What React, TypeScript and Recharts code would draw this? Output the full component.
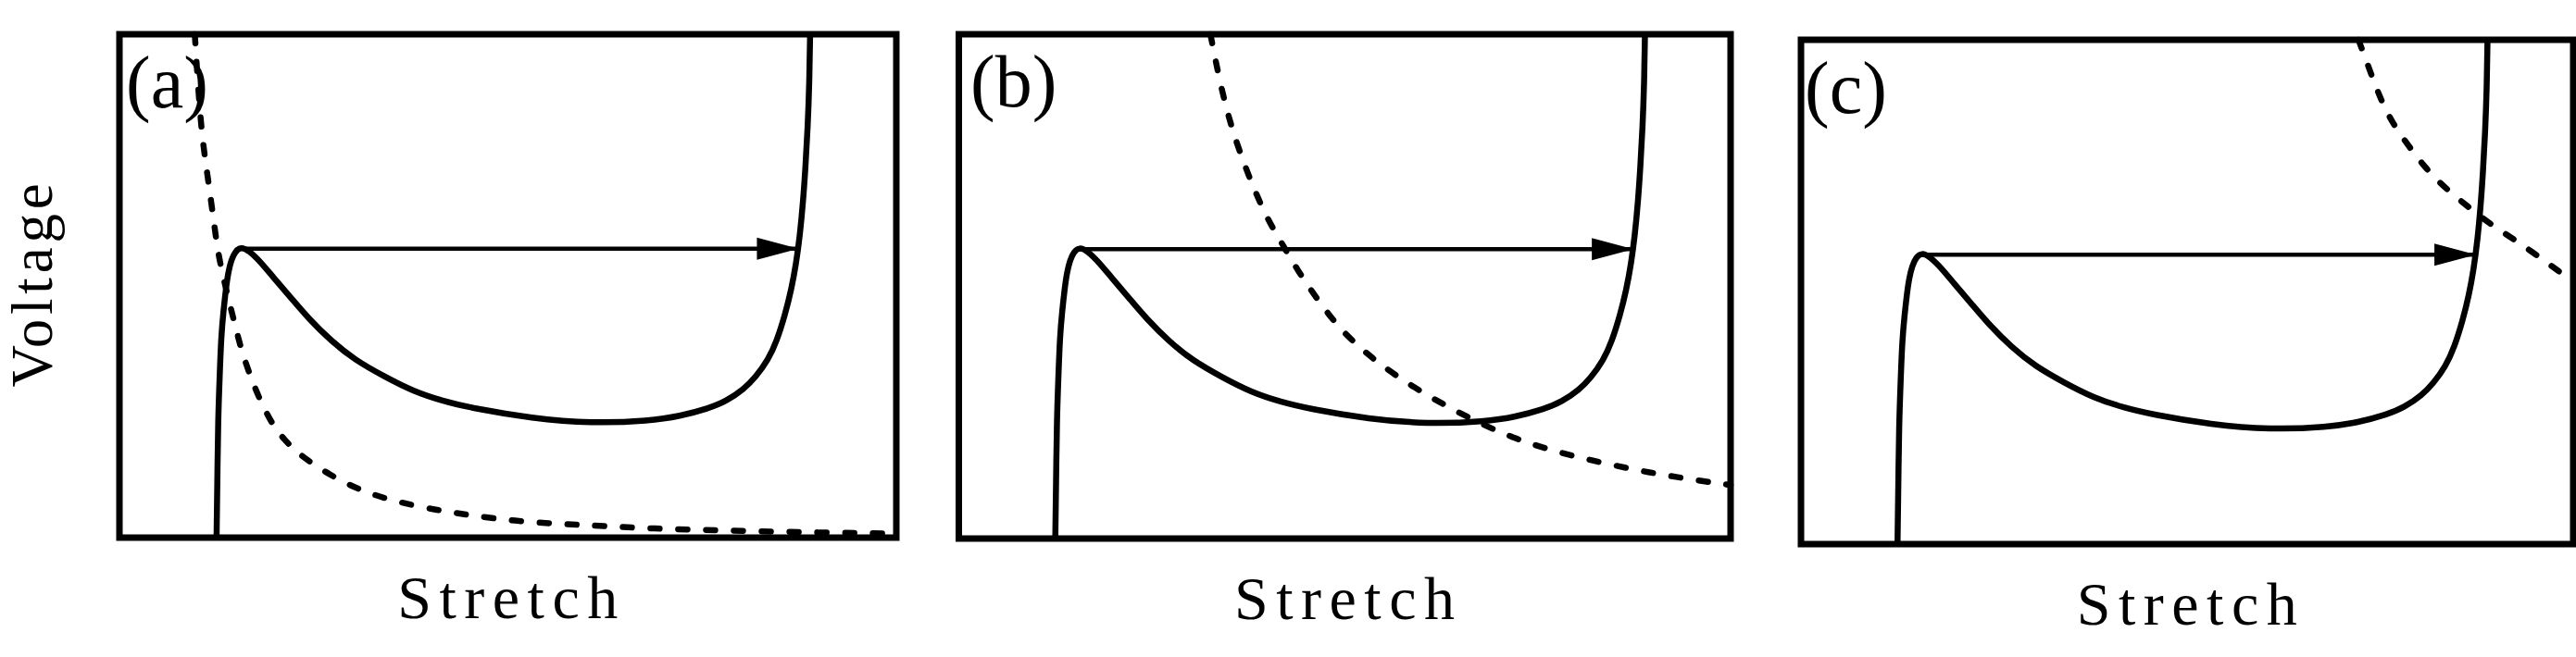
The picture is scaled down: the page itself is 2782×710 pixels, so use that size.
import { LineChart, Line, XAxis, YAxis, ReferenceArea, Label } from 'recharts'

// stretch / voltage in % of the plot box (0 = left/bottom, 100 = right/top)
const curveStretch = [
  12.5, 12.6, 12.7, 12.9, 13.1, 13.4, 13.7, 14.0, 14.4, 14.9, 15.6,
  16.7, 18.2, 19.7, 22.0, 24.3, 27.3, 30.3, 34.1, 37.9, 41.7, 45.5, 53.1, 60.7,
  68.3, 72.1, 75.9, 78.1, 80.4, 81.9, 83.5, 84.6, 85.7, 86.5, 87.1, 87.6, 88.0, 88.3, 88.6, 88.8, 88.9,
]
const curveVoltage = [
  0, 11.0, 23.7, 32.0, 40.2, 45.2, 49.4, 52.7, 55.2, 56.8, 57.8,
  57.0, 54.7, 51.9, 47.8, 43.6, 39.0, 35.3, 32.0, 29.0, 27.1, 25.7, 23.7, 22.7,
  23.2, 24.1, 25.7, 27.1, 29.5, 31.9, 35.3, 39.0, 44.4, 49.4, 54.4, 60.2, 66.8, 73.4, 81.7, 90.0, 100,
]

const loadAStretch = [9.7, 10.1, 10.6, 11.2, 11.8, 12.3, 12.9, 14.8, 15.6, 16.5, 17.5, 18.6, 19.9, 21.2, 22.8, 25.0, 28.5, 31.9, 35.7, 41.0, 45.5, 50.8, 56.9, 62.2, 68.3, 78.1, 90.3, 100]
const loadAVoltage = [100, 90.0, 80.1, 73.4, 66.8, 61.0, 54.4, 42.7, 37.8, 33.6, 29.5, 25.7, 22.0, 19.5, 17.0, 14.5, 11.2, 8.9, 7.1, 5.4, 4.4, 3.3, 2.7, 2.3, 1.8, 1.4, 1.0, 0.8]

const loadBStretch = [32.6, 33.9, 35.3, 36.8, 38.2, 40.0, 41.8, 44.0, 46.6, 49.5, 53.1, 56.7, 61.1, 66.1, 72.0, 79.2, 87.9, 93.7, 100]
const loadBVoltage = [100, 89.9, 81.6, 75.0, 69.5, 63.3, 58.7, 52.9, 47.1, 41.3, 36.3, 32.2, 28.0, 23.9, 19.7, 16.4, 13.5, 12.0, 10.6]

const loadCStretch = [72.2, 73.6, 75.0, 76.6, 78.9, 81.0, 83.7, 86.4, 89.1, 92.5, 95.9, 99.2]
const loadCVoltage = [100, 94.2, 88.4, 83.4, 78.5, 74.3, 70.2, 66.9, 63.6, 60.3, 56.6, 52.9]

// snap-through jump: from the peak to the stiffening branch
const jumpStretch = [15.6, 87.3]
const jumpVoltage = [57.4, 57.4]

const panelTags = ['(a)', '(b)', '(c)']

const zip = (xs: number[], ys: number[]) => xs.map((x, i) => ({ x, y: ys[i] }))

const curve = zip(curveStretch, curveVoltage)
const jump = zip(jumpStretch, jumpVoltage)

const FONT = '"Liberation Serif", "Times New Roman", serif'

const panels = [
  { left: 0, width: 1000, margin: { top: 37, right: 32, bottom: 129, left: 129 }, tagDx: 7, tagDy: 79, load: zip(loadAStretch, loadAVoltage), yLabel: true },
  { left: 1000, width: 900, margin: { top: 37, right: 31, bottom: 128, left: 35.5 }, tagDx: 12.5, tagDy: 78, load: zip(loadBStretch, loadBVoltage), yLabel: false },
  { left: 1900, width: 882, margin: { top: 43, right: 3, bottom: 122, left: 45 }, tagDx: 4, tagDy: 79, load: zip(loadCStretch, loadCVoltage), yLabel: false },
]

const arrowHead = (p: any) => {
  if (p.index !== 1) return <g key={`d${p.index}`} />
  const { cx, cy } = p
  return <polygon key="head" points={`${cx + 1},${cy} ${cx - 44},${cy - 12} ${cx - 44},${cy + 12}`} fill="#000" />
}

function Panel({ left, width, margin, tagDx, tagDy, load, yLabel, tag }: any) {
  const texts = (props: any) => {
    const { x, y, width: w, height: h } = props.viewBox
    return (
      <g fontFamily={FONT} fill="#000">
        <text x={x + tagDx} y={y + tagDy} fontSize={80}>{tag}</text>
        <text x={x + w / 2 + 4} y={y + h + 87} fontSize={66} letterSpacing={8.5} textAnchor="middle">Stretch</text>
        {yLabel && (
          <g transform={`translate(${x - 73}, ${y + h / 2 - 3}) rotate(-90)`}>
            <text x={0} y={0} fontSize={63} letterSpacing={4.8} textAnchor="middle">Voltage</text>
          </g>
        )}
      </g>
    )
  }
  return (
    <div style={{ position: 'absolute', left, top: 0 }}>
      <LineChart width={width} height={710} margin={margin}>
        <XAxis type="number" dataKey="x" domain={[0, 100]} hide />
        <YAxis type="number" dataKey="y" domain={[0, 100]} hide />
        <Line data={load} dataKey="y" type="basis" stroke="#000" strokeWidth={6.5} strokeDasharray="10 20" strokeLinecap="round" dot={false} activeDot={false} isAnimationActive={false} />
        <Line data={curve} dataKey="y" type="basis" stroke="#000" strokeWidth={6.5} dot={false} activeDot={false} isAnimationActive={false} />
        <Line data={jump} dataKey="y" type="linear" stroke="#000" strokeWidth={4.5} dot={arrowHead} activeDot={false} isAnimationActive={false} />
        <ReferenceArea x1={0} x2={100} y1={0} y2={100} fill="none" stroke="#000" strokeWidth={7} ifOverflow="visible">
          <Label content={texts} />
        </ReferenceArea>
      </LineChart>
    </div>
  )
}

export default function App() {
  return (
    <div style={{ position: 'absolute', left: 0, top: 0, width: 2782, height: 710, background: '#fff' }}>
      {panels.map((p, i) => (
        <Panel key={i} {...p} tag={panelTags[i]} />
      ))}
    </div>
  )
}
